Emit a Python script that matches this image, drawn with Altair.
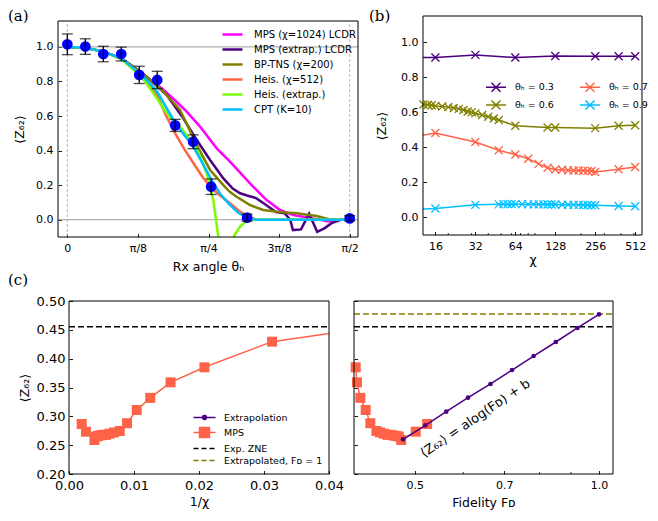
import altair as alt
import pandas as pd
import numpy as np

PI = float(np.pi)
W, H = 642, 505

# ---------------- panel (a) data ----------------
A_THETA = [0.0, 0.1, 0.2, 0.3, 0.4, 0.5, 0.6, 0.7, 0.8, 1.0, PI / 2]
A_Z = [1.015, 1.002, 0.959, 0.959, 0.838, 0.809, 0.546, 0.451, 0.191, 0.012, 0.008]
A_ERR = [0.06, 0.045, 0.045, 0.04, 0.05, 0.05, 0.035, 0.04, 0.045, 0.02, 0.015]

A_NAMES = ["MPS (χ=1024) LCDR", "MPS (extrap.) LCDR", "BP-TNS (χ=200)",
           "Heis. (χ=512)", "Heis. (extrap.)", "CPT (K=10)"]
A_COLORS = ["#ff00ff", "#4b0082", "#808000", "#ff6347", "#7cfc00", "#00bfff"]

MAG_X = [0, 0.1, 0.2, 0.3, 0.4, 0.46, 0.525, 0.6, 0.655, 0.738, 0.831, 0.905, 1.016, 1.109, 1.183, 1.257, 1.332, 1.406, 1.452, 1.49]
MAG_Y = [1.0, 0.995, 0.973, 0.934, 0.86, 0.81, 0.761, 0.69, 0.635, 0.539, 0.413, 0.336, 0.21, 0.114, 0.056, 0.027, 0.0135, 0.0, -0.01, 0.0]
PUR_X = [0, 0.1, 0.2, 0.3, 0.4, 0.46, 0.553, 0.645, 0.72, 0.794, 0.868, 0.92, 0.961, 1.0, 1.05, 1.1, 1.16, 1.21, 1.24, 1.255, 1.30, 1.345, 1.39, 1.43, 1.47, 1.52, 1.5708]
PUR_Y = [1.0, 0.995, 0.973, 0.934, 0.86, 0.81, 0.722, 0.587, 0.461, 0.346, 0.239, 0.18, 0.153, 0.14, 0.125, 0.09, 0.045, 0.037, 0.0, -0.06, -0.056, 0.035, -0.07, -0.05, -0.02, 0.0, 0.0]
OLV_X = [0, 0.1, 0.2, 0.3, 0.4, 0.46, 0.534, 0.627, 0.72, 0.794, 0.868, 0.905, 0.942, 1.016, 1.09, 1.18, 1.276, 1.387, 1.46, 1.5, 1.5708]
OLV_Y = [1.0, 0.995, 0.973, 0.934, 0.86, 0.81, 0.741, 0.635, 0.432, 0.288, 0.2, 0.16, 0.133, 0.085, 0.056, 0.045, 0.037, 0.021, 0.002, 0.0, 0.0]
ORG_X = [0, 0.1, 0.2, 0.3, 0.4, 0.45, 0.5, 0.55, 0.6, 0.65, 0.7, 0.75, 0.8, 0.85, 0.9, 0.95, 1.0, 1.05, 1.5708]
ORG_Y = [1.0, 0.995, 0.973, 0.934, 0.85, 0.79, 0.72, 0.6, 0.5, 0.41, 0.33, 0.25, 0.185, 0.14, 0.1, 0.055, 0.02, 0.0, 0.0]
GRN1_X = [0, 0.1, 0.2, 0.3, 0.4, 0.44, 0.5, 0.534, 0.58, 0.627, 0.67, 0.72, 0.775, 0.812, 0.84]
GRN1_Y = [1.0, 0.995, 0.973, 0.93, 0.838, 0.79, 0.7, 0.645, 0.58, 0.539, 0.48, 0.413, 0.268, 0.114, -0.1]
GRN2_X = [0.924, 0.961, 1.007, 1.05, 1.5708]
GRN2_Y = [-0.1, -0.04, 0.002, 0.0, 0.0]
CYN_X = [0, 0.1, 0.2, 0.3, 0.4, 0.45, 0.5, 0.55, 0.6, 0.65, 0.7, 0.75, 0.8, 0.85, 0.9, 0.95, 1.0, 1.05, 1.5708]
CYN_Y = [1.0, 0.995, 0.973, 0.934, 0.85, 0.80, 0.74, 0.65, 0.56, 0.49, 0.425, 0.33, 0.235, 0.15, 0.09, 0.04, 0.012, 0.0, 0.0]

# ---------------- panel (b) data ----------------
B_LABELS = ["θₕ = 0.3", "θₕ = 0.6", "θₕ = 0.7", "θₕ = 0.9"]
B_COLORS = ["#4b0082", "#808000", "#ff6347", "#00bfff"]
B_CHI_03 = [12.9, 16, 32, 64, 128, 256, 384, 512]
B_Z_03 = [0.913, 0.913, 0.928, 0.913, 0.922, 0.92, 0.92, 0.92]
B_CHI_06 = [13, 14, 15, 16, 18, 20, 22, 24, 26, 28, 30, 32, 36, 40, 44, 48, 64, 112, 128, 256, 384, 512]
B_Z_06 = [0.645, 0.643, 0.641, 0.637, 0.633, 0.63, 0.625, 0.62, 0.613, 0.605, 0.6, 0.594, 0.585, 0.575, 0.565, 0.556, 0.524, 0.514, 0.514, 0.51, 0.524, 0.526]
B_CHI_07 = [12.9, 16, 32, 48, 64, 80, 96, 112, 128, 144, 160, 176, 192, 208, 224, 240, 256, 384, 512]
B_Z_07 = [0.47, 0.482, 0.431, 0.384, 0.359, 0.335, 0.306, 0.284, 0.274, 0.272, 0.27, 0.268, 0.268, 0.267, 0.266, 0.265, 0.26, 0.275, 0.288]
B_CHI_09 = [12.9, 16, 32, 48, 52, 56, 60, 64, 72, 80, 88, 96, 104, 112, 120, 128, 144, 160, 176, 192, 208, 224, 240, 256, 384, 512]
B_Z_09 = [0.049, 0.051, 0.072, 0.075, 0.076, 0.076, 0.076, 0.076, 0.076, 0.075, 0.075, 0.075, 0.075, 0.074, 0.074, 0.074, 0.073, 0.073, 0.072, 0.072, 0.071, 0.071, 0.07, 0.07, 0.066, 0.064]
B_MINOR = [20, 30, 40, 50, 60, 70, 80, 90, 200, 300, 400, 500]

# ---------------- panel (c) data ----------------
C_CHI = [32, 48, 64, 80, 96, 112, 128, 144, 160, 176, 192, 208, 224, 240, 256, 384, 512]
C_Z = [0.4295, 0.385, 0.359, 0.332, 0.311, 0.288, 0.2746, 0.272, 0.27, 0.268, 0.268, 0.267, 0.266, 0.265, 0.259, 0.2734, 0.2867]
C_FID = [0.39, 0.4005, 0.4025, 0.4076, 0.4159, 0.4232, 0.433, 0.439, 0.445, 0.451, 0.456, 0.461, 0.466, 0.471, 0.4753, 0.502, 0.524]
C1_EDGE = (0.04, 0.4436)      # where the MPS curve leaves panel (c) left
C2_EDGE = (0.398, 0.395)      # where the MPS curve leaves panel (c) right
E_FID = [0.4786, 0.5205, 0.563, 0.611, 0.665, 0.721, 0.782, 0.85, 0.922, 1.0]
E_Z = [0.2601, 0.2844, 0.3081, 0.3324, 0.3561, 0.3803, 0.4046, 0.4289, 0.4532, 0.4769]
ZNE = 0.4555
EXTRAP_F1 = 0.4775
C2_MINOR = [0.6, 0.8, 0.9]
C_LEG = ["Extrapolation", "MPS", "Exp. ZNE", "Extrapolated, Fᴅ = 1"]
C_LEG_COLORS = ["#4b0082", "#ff6347", "black", "#808000"]
ANNOT = "⟨Z₆₂⟩ = alog(Fᴅ) + b"

FONT = "DejaVu Sans"
SERIF = "DejaVu Serif"

# panel boxes in the drawing area (x0, x1, y_top, y_bottom)
BOX_A = (50, 350, 13, 229)
BOX_B = (415, 634, 8, 227)
BOX_C1 = (61, 321, 293, 466)
BOX_C2 = (346, 605, 293, 466)
TK = 3.5
TKMIN = 2.0


def xaxis(box, **kw):
    d = dict(orient="bottom", offset=box[3] - TK - H, tickSize=TK, tickWidth=0.9, tickColor="black",
             domain=False, grid=False, labelFlush=False, labelOverlap=False, labelPadding=5,
             labelFont=FONT, labelColor="black", labelFontSize=11, titleFont=FONT, titleColor="black",
             titleFontSize=12.5, titleFontWeight="normal")
    d.update(kw)
    return alt.Axis(**d)


def yaxis(box, **kw):
    d = dict(orient="left", offset=-(box[0] + TK), tickSize=TK, tickWidth=0.9, tickColor="black",
             domain=False, grid=False, labelFlush=False, labelOverlap=False, labelPadding=5,
             labelFont=FONT, labelColor="black", labelFontSize=11, titleFont=FONT, titleColor="black",
             titleFontSize=12.5, titleFontWeight="normal")
    d.update(kw)
    return alt.Axis(**d)


def frame(xd, yd, X, Y):
    df = pd.DataFrame({"fx1": [xd[0]], "fx2": [xd[1]], "fy1": [yd[0]], "fy2": [yd[1]]})
    return alt.Chart(df).mark_rect(fillOpacity=0, stroke="black", strokeWidth=1).encode(
        x=X("fx1"), x2="fx2", y=Y("fy1"), y2="fy2")


def minor_ticks(values, X, box):
    df = pd.DataFrame({"m": values})
    return alt.Chart(df).mark_rule(color="black", strokeWidth=0.8).encode(
        x=X("m"), y=alt.value(box[3]), y2=alt.value(box[3] - TKMIN))


# ---------------- panel (a) ----------------
A_XD, A_YD = [-0.052, 1.617], [-0.1, 1.15]


def XA(f):
    return alt.X(f + ":Q", scale=alt.Scale(domain=A_XD, range=[BOX_A[0], BOX_A[1]], nice=False, zero=False),
                 axis=xaxis(BOX_A, values=[0, PI / 8, PI / 4, 3 * PI / 8, PI / 2], titlePadding=7,
                            labelExpr="datum.value < 0.1 ? '0' : datum.value < 0.5 ? 'π/8' : datum.value < 0.9 ? 'π/4' : datum.value < 1.3 ? '3π/8' : 'π/2'",
                            title="Rx angle θₕ"))


def YA(f):
    return alt.Y(f + ":Q", scale=alt.Scale(domain=A_YD, range=[BOX_A[3], BOX_A[2]], nice=False, zero=False),
                 axis=yaxis(BOX_A, values=[0, 0.2, 0.4, 0.6, 0.8, 1.0], format=".1f", title="⟨Z₆₂⟩", titlePadding=9))


rows = []
for name, seg, xs, ys in [(A_NAMES[0], 0, MAG_X, MAG_Y), (A_NAMES[1], 0, PUR_X, PUR_Y),
                          (A_NAMES[2], 0, OLV_X, OLV_Y), (A_NAMES[3], 0, ORG_X, ORG_Y),
                          (A_NAMES[4], 0, GRN1_X, GRN1_Y), (A_NAMES[4], 1, GRN2_X, GRN2_Y),
                          (A_NAMES[5], 0, CYN_X, CYN_Y)]:
    for i, (xv, yv) in enumerate(zip(xs, ys)):
        rows.append({"series": name, "seg": seg, "x": xv, "y": yv, "i": i})
curve_df = pd.DataFrame(rows)
pts_df = pd.DataFrame({"x": A_THETA, "y": A_Z,
                       "lo": [z - e for z, e in zip(A_Z, A_ERR)],
                       "hi": [z + e for z, e in zip(A_Z, A_ERR)]})

a_h = alt.Chart(pd.DataFrame({"y": [0.0, 1.0], "xa": [A_XD[0]] * 2, "xb": [A_XD[1]] * 2})).mark_rule(
    color="#b0b0b0", strokeWidth=1.3).encode(y=YA("y"), x=XA("xa"), x2="xb")
a_v = alt.Chart(pd.DataFrame({"x": [0.0, PI / 2], "ya": [A_YD[0]] * 2, "yb": [A_YD[1]] * 2})).mark_rule(
    color="#999999", strokeWidth=0.7, strokeDash=[3, 2]).encode(x=XA("x"), y=YA("ya"), y2="yb")
a_lines = alt.Chart(curve_df).mark_line(strokeWidth=2.5).encode(
    x=XA("x"), y=YA("y"), detail="seg:N",
    color=alt.Color("series:N", scale=alt.Scale(domain=A_NAMES, range=A_COLORS),
                    legend=alt.Legend(title=None, orient="none", legendX=218, legendY=20,
                                      symbolType="M-2,0H2", symbolSize=100, symbolStrokeWidth=2.5,
                                      labelFont=FONT, labelFontSize=10, labelColor="black",
                                      rowPadding=3, padding=0, labelOffset=15, labelLimit=0)),
    order=alt.Order("i:Q"))
a_pts = alt.Chart(pts_df).mark_circle(size=115, color="#0000ff", opacity=1).encode(x=XA("x"), y=YA("y"))
a_err = alt.Chart(pts_df).mark_rule(color="black", strokeWidth=1.3).encode(x=XA("x"), y=YA("lo"), y2="hi")
a_cap1 = alt.Chart(pts_df).mark_tick(color="black", orient="horizontal", size=11, thickness=1.3).encode(x=XA("x"), y=YA("lo"))
a_cap2 = alt.Chart(pts_df).mark_tick(color="black", orient="horizontal", size=11, thickness=1.3).encode(x=XA("x"), y=YA("hi"))
panel_a = alt.layer(a_v, a_h, a_lines, a_pts, a_err, a_cap1, a_cap2, frame(A_XD, A_YD, XA, YA))

# ---------------- panel (b) ----------------
B_XD, B_YD = [12.9, 576], [-0.1, 1.15]


def XB(f):
    return alt.X(f + ":Q", scale=alt.Scale(type="log", base=2, domain=B_XD, range=[BOX_B[0], BOX_B[1]], nice=False),
                 axis=xaxis(BOX_B, values=[16, 32, 64, 128, 256, 512], format="d", title="χ", titlePadding=2))


def YB(f):
    return alt.Y(f + ":Q", scale=alt.Scale(domain=B_YD, range=[BOX_B[3], BOX_B[2]], nice=False, zero=False),
                 axis=yaxis(BOX_B, values=[0, 0.2, 0.4, 0.6, 0.8, 1.0], format=".1f", title="⟨Z₆₂⟩", titlePadding=12))


rows = []
for lab, cs, zs in zip(["θₕ = 0.3", "θₕ = 0.6", "θₕ = 0.7", "θₕ = 0.9"],
                       [B_CHI_03, B_CHI_06, B_CHI_07, B_CHI_09],
                       [B_Z_03, B_Z_06, B_Z_07, B_Z_09]):
    for c, z in zip(cs, zs):
        rows.append({"lab": lab, "chi": c, "z": z, "mk": c >= 13})
b_df = pd.DataFrame(rows)
XPATH = "M-1,-1L1,1M-1,1L1,-1"
b_leg = alt.Legend(title=None, orient="none", legendX=482, legendY=73, columns=2,
                   symbolType="M-2,0H2M-0.9,-0.9L0.9,0.9M-0.9,0.9L0.9,-0.9",
                   symbolSize=100, symbolStrokeWidth=1.5, symbolFillColor="transparent",
                   labelFont=FONT, labelFontSize=9.5, labelColor="black", rowPadding=2,
                   columnPadding=23, padding=0, labelOffset=13, labelLimit=0)
b_color = alt.Color("lab:N", scale=alt.Scale(domain=B_LABELS, range=B_COLORS), legend=b_leg)
b_lines = alt.Chart(b_df).mark_line(strokeWidth=1.5).encode(x=XB("chi"), y=YB("z"), color=b_color)
b_pts = alt.Chart(b_df).transform_filter("datum.mk").mark_point(
    shape=XPATH, size=64, strokeWidth=1.3, filled=False, opacity=1).encode(x=XB("chi"), y=YB("z"), color=b_color)
panel_b = alt.layer(b_lines, b_pts, minor_ticks(B_MINOR, XB, BOX_B), frame(B_XD, B_YD, XB, YB))

# ---------------- panel (c) left ----------------
C_YD = [0.2, 0.5]
C1_XD = [0, 0.04]
C2_XD = [0.398, 1.054]
C_YT = [0.2, 0.25, 0.3, 0.35, 0.4, 0.45, 0.5]


def XC1(f):
    return alt.X(f + ":Q", scale=alt.Scale(domain=C1_XD, range=[BOX_C1[0], BOX_C1[1]], nice=False, zero=False),
                 axis=xaxis(BOX_C1, values=[0, 0.01, 0.02, 0.03, 0.04], format=".2f", title="1/χ",
                            labelFontSize=13, titlePadding=3))


def YC1(f):
    return alt.Y(f + ":Q", scale=alt.Scale(domain=C_YD, range=[BOX_C1[3], BOX_C1[2]], nice=False, zero=False),
                 axis=yaxis(BOX_C1, values=C_YT, format=".2f", title="⟨Z₆₂⟩", labelFontSize=13, titlePadding=5,
                            labelPadding=4))


c1_df = pd.DataFrame({"inv": [1.0 / c for c in C_CHI], "z": C_Z})
c1_line_df = pd.concat([pd.DataFrame({"inv": [C1_EDGE[0]], "z": [C1_EDGE[1]]}), c1_df])

c_zne = alt.Chart(pd.DataFrame({"z": [ZNE], "xa": [C1_XD[0]], "xb": [C1_XD[1]]})).mark_rule(
    color="black", strokeDash=[6, 3], strokeWidth=1.5).encode(y=YC1("z"), x=XC1("xa"), x2="xb")
c_line = alt.Chart(c1_line_df).mark_line(color="#ff6347", strokeWidth=1.5).encode(x=XC1("inv"), y=YC1("z"))
c_sq = alt.Chart(c1_df).mark_square(color="#ff6347", size=100, opacity=1).encode(x=XC1("inv"), y=YC1("z"))

DOT = "M-2,0H2M-0.38,0A0.38,0.38,0,1,0,0.38,0A0.38,0.38,0,1,0,-0.38,0Z"
SQ = "M-2,0H2M-0.9,-0.9H0.9V0.9H-0.9Z"
LN = "M-2,0H2"
leg_common = dict(title=None, orient="none", legendX=190, legendY=403, symbolSize=121,
                  symbolStrokeWidth=1.5, labelFont=FONT, labelFontSize=9.5, labelColor="black",
                  rowPadding=1, padding=0, labelOffset=13, labelLimit=0)
c_leg = alt.Chart(pd.DataFrame({"series": C_LEG})).transform_filter("false").mark_point(filled=True, opacity=1).encode(
    x=XC1("inv"), y=YC1("z"),
    fill=alt.Fill("series:N", scale=alt.Scale(domain=C_LEG, range=C_LEG_COLORS), legend=alt.Legend(**leg_common)),
    stroke=alt.Stroke("series:N", scale=alt.Scale(domain=C_LEG, range=C_LEG_COLORS), legend=alt.Legend(**leg_common)),
    shape=alt.Shape("series:N", scale=alt.Scale(domain=C_LEG, range=[DOT, SQ, LN, LN]), legend=alt.Legend(**leg_common)),
    strokeDash=alt.StrokeDash("series:N", scale=alt.Scale(domain=C_LEG, range=[[1, 0], [1, 0], [5, 3], [5, 3]]),
                              legend=alt.Legend(**leg_common)))
panel_c1 = alt.layer(c_zne, c_line, c_sq, c_leg, frame(C1_XD, C_YD, XC1, YC1))

# ---------------- panel (c) right ----------------
def XC2(f):
    return alt.X(f + ":Q", scale=alt.Scale(type="log", domain=C2_XD, range=[BOX_C2[0], BOX_C2[1]], nice=False),
                 axis=xaxis(BOX_C2, values=[0.5, 0.7, 1.0], format=".1f", titlePadding=6,
                            title="Fidelity Fᴅ"))


def YC2(f):
    return alt.Y(f + ":Q", scale=alt.Scale(domain=C_YD, range=[BOX_C2[3], BOX_C2[2]], nice=False, zero=False),
                 axis=yaxis(BOX_C2, values=C_YT, labels=False, title=None))


c2_df = pd.DataFrame({"f": C_FID, "z": C_Z})
c2_df = c2_df[c2_df["f"] >= C2_XD[0]]
c2_line_df = pd.concat([pd.DataFrame({"f": [C2_EDGE[0]], "z": [C2_EDGE[1]]}), c2_df])
e_df = pd.DataFrame({"f": E_FID, "z": E_Z})

d_rules = alt.Chart(pd.DataFrame({"z": [ZNE, EXTRAP_F1], "k": ["zne", "f1"],
                                  "xa": [C2_XD[0]] * 2, "xb": [C2_XD[1]] * 2})).mark_rule(
    strokeDash=[6, 3], strokeWidth=1.5).encode(
    y=YC2("z"), x=XC2("xa"), x2="xb",
    color=alt.Color("k:N", scale=alt.Scale(domain=["zne", "f1"], range=["black", "#808000"]), legend=None))
d_line = alt.Chart(c2_line_df).mark_line(color="#ff6347", strokeWidth=1.5).encode(x=XC2("f"), y=YC2("z"))
d_sq = alt.Chart(c2_df).mark_square(color="#ff6347", size=100, opacity=1).encode(x=XC2("f"), y=YC2("z"))
d_eline = alt.Chart(e_df).mark_line(color="#4b0082", strokeWidth=1.5).encode(x=XC2("f"), y=YC2("z"))
d_edot = alt.Chart(e_df).mark_circle(color="#4b0082", size=22, opacity=1).encode(x=XC2("f"), y=YC2("z"))
d_text = alt.Chart(pd.DataFrame({"f": [0.628], "z": [0.2965], "t": [ANNOT]})).mark_text(
    angle=326, fontSize=13, font=FONT, color="black", align="center", baseline="middle").encode(
    x=XC2("f"), y=YC2("z"), text="t:N")
panel_c2 = alt.layer(d_rules, d_line, d_sq, d_eline, d_edot, d_text,
                     minor_ticks(C2_MINOR, XC2, BOX_C2), frame(C2_XD, C_YD, XC2, YC2))

# ---------------- panel letters ----------------
PANEL_TXT = ["(a)", "(b)", "(c)"]
PANEL_PX = [0, 361, 0]
PANEL_PY = [1, 1, 265]
lab_df = pd.DataFrame({"t": PANEL_TXT, "px": PANEL_PX, "py": PANEL_PY})
letters = alt.Chart(lab_df).mark_text(font=SERIF, fontSize=15, align="left", baseline="top", color="black").encode(
    x=alt.X("px:Q", scale=None), y=alt.Y("py:Q", scale=None), text="t:N")

IND = dict(x="independent", y="independent", color="independent", fill="independent",
           stroke="independent", shape="independent", strokeDash="independent")
chart = alt.layer(panel_a, panel_b, panel_c1, panel_c2, letters).resolve_scale(**IND).resolve_axis(
    x="independent", y="independent").resolve_legend(
    color="independent", fill="independent", stroke="independent", shape="independent",
    strokeDash="independent").properties(
    width=W, height=H, padding={"left": 0, "top": 0, "right": 0, "bottom": 0}
).configure_view(stroke=None)

chart.save("out.html", embed_options={"renderer": "svg", "actions": False})
